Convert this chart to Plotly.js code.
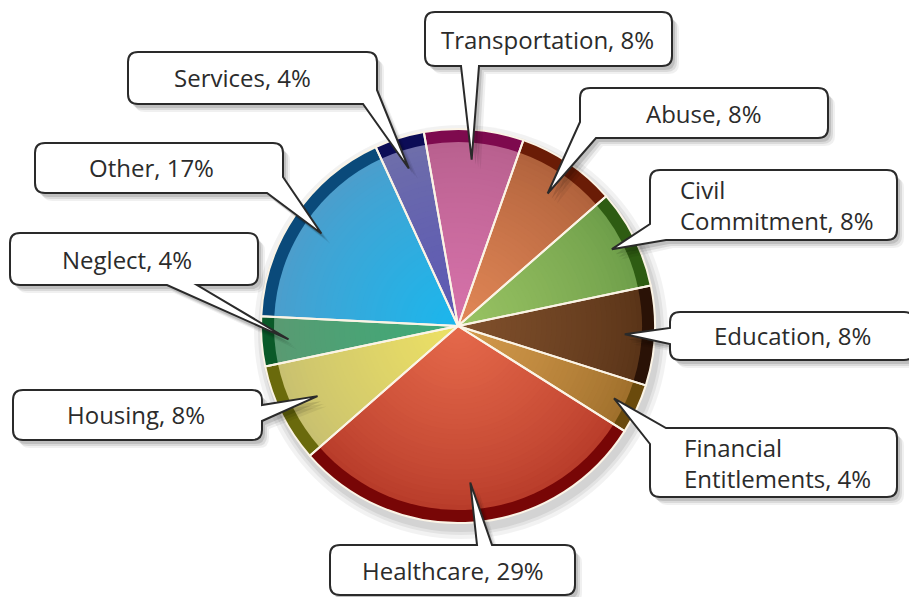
<!DOCTYPE html>
<html><head><meta charset="utf-8">
<script src="https://cdn.plot.ly/plotly-3.0.1.min.js"></script>
<style>html,body{margin:0;padding:0;background:#fff}</style>
</head><body><div id="chart" style="width:909px;height:597px"></div>
<script>
// ---- data ----
const categories = ['Transportation','Abuse','Civil Commitment','Education','Financial Entitlements','Healthcare','Housing','Neglect','Other','Services'];
const shares = [8,8,8,8,4,29,8,4,17,4];
const labelLines = ['Transportation','Abuse','Civil<br>Commitment','Education','Financial<br>Entitlements','Healthcare','Housing','Neglect','Other','Services'];

// ---- styles ----
const centerColors = ['#d672aa','#e08656','#98c262','#80502c','#d49a4c','#e4684a','#ece064','#3eaa78','#1cb6ec','#5c58b4'];
const edgeColors   = ['#b8608e','#b0623c','#6e9e4a','#5a3418','#a0702c','#b83c2a','#c8c070','#5a9a72','#4c9ecc','#6e6eaa'];
const rimColors    = ['#7e0a4e','#6a1c06','#2e5c12','#2a1206','#6a4a0c','#780606','#6a6a0c','#0a5a28','#0a4a7a','#0c0c56'];

// callout layout (pixels)
const callouts = [
  {box:[425,12,672,66],  tail:'bottom', a:461, b:479, tipR:167, tx:548},
  {box:[580,88,828,138], tail:'bl', a:16, tipR:160, tx:704},
  {box:[650,170,897,240],tail:'bl', a:16, tipR:172, tx:678, left:true},
  {box:[670,312,914,360],tail:'left', a:328, b:344, tipR:167, tx:793},
  {box:[650,428,897,497],tail:'tl', a:16, tipR:172, tx:682, left:true},
  {box:[330,545,575,595],tail:'top', a:477, b:492, tipR:157, tx:453},
  {box:[13,390,262,440], tail:'right', a:405, b:421, tipR:157, tx:136},
  {box:[10,233,258,285], tail:'bottom', a:167, b:197, tipR:170, tx:127},
  {box:[35,143,283,193], tail:'br', a:16, tipR:165, tx:151},
  {box:[128,52,377,104], tail:'br', a:14, tipR:165, tx:242}
];

const W = 909, H = 597;
const CX = 458, CY = 326, R = 197, RIM = 13;
const ROTATION = -10;

const px = x => +(x / W).toFixed(6);
const py = y => +(1 - y / H).toFixed(6);
const dom = r => ({x:[px(CX - r), px(CX + r)], y:[py(CY + r), py(CY - r)]});

function hex(h){return [1,3,5].map(i=>parseInt(h.substr(i,2),16));}
function mix(c1,c2,t){const a=hex(c1),b=hex(c2);return 'rgb('+a.map((v,i)=>Math.round(v+(b[i]-v)*t)).join(',')+')';}

const base = {type:'pie', values:shares, labels:categories, sort:false, direction:'clockwise',
  rotation:ROTATION, textinfo:'none', hoverinfo:'skip', showlegend:false};

const traces = [];
traces.push(Object.assign({}, base, {domain:dom(R), marker:{colors:rimColors, line:{width:0}}}));
const N = 36, rOut = R - RIM, rMin = 8;
for (let k = 0; k < N; k++) {
  const t = k / (N - 1);
  const r = rOut - k * (rOut - rMin) / (N - 1);
  traces.push(Object.assign({}, base, {domain:dom(r),
    marker:{colors:edgeColors.map((e,i)=>mix(e, centerColors[i], Math.pow(t,0.8))), line:{width:0}}}));
}
traces.push(Object.assign({}, base, {domain:dom(R),
  marker:{colors:categories.map(()=> 'rgba(0,0,0,0)'), line:{color:'#fbf4e6', width:2}}}));

// mid-angles from data
const total = shares.reduce((s,v)=>s+v,0);
let acc = 0;
const midAngles = shares.map(v => { const m = ROTATION + (acc + v/2) / total * 360; acc += v; return m; });

function calloutPath(c, tip, dx, dy) {
  const [x0,y0,x1,y1] = c.box, r = 10, t = c.tail, a = c.a, b = c.b;
  const P = (x,y) => px(x+dx) + ',' + py(y+dy);
  const T = P(tip[0], tip[1]);
  let d = t === 'tl' ? 'M' + P(x0 + a, y0) : 'M' + P(x0 + r, y0);
  if (t === 'top') d += 'L' + P(a,y0) + 'L' + T + 'L' + P(b,y0);
  if (t === 'tr') d += 'L' + P(x1-a,y0) + 'L' + T + 'L' + P(x1,y0+a);
  else d += 'L' + P(x1-r,y0) + 'Q' + P(x1,y0) + ' ' + P(x1,y0+r);
  if (t === 'right') d += 'L' + P(x1,a) + 'L' + T + 'L' + P(x1,b);
  if (t === 'br') d += 'L' + P(x1,y1-a) + 'L' + T + 'L' + P(x1-a,y1);
  else d += 'L' + P(x1,y1-r) + 'Q' + P(x1,y1) + ' ' + P(x1-r,y1);
  if (t === 'bottom') d += 'L' + P(b,y1) + 'L' + T + 'L' + P(a,y1);
  if (t === 'bl') d += 'L' + P(x0+a,y1) + 'L' + T + 'L' + P(x0,y1-a);
  else d += 'L' + P(x0+r,y1) + 'Q' + P(x0,y1) + ' ' + P(x0,y1-r);
  if (t === 'left') d += 'L' + P(x0,b) + 'L' + T + 'L' + P(x0,a);
  if (t === 'tl') d += 'L' + P(x0,y0+a) + 'L' + T + 'L' + P(x0+a,y0);
  else d += 'L' + P(x0,y0+r) + 'Q' + P(x0,y0) + ' ' + P(x0+r,y0);
  return d + 'Z';
}

const shapes = [];
// soft shadow under the pie
[[10,0.05],[6,0.06],[3,0.07]].forEach(([g,o])=>{
  shapes.push({type:'circle', layer:'below', xref:'paper', yref:'paper',
    x0:px(CX-R-g+3), x1:px(CX+R+g+3), y0:py(CY+R+g+6), y1:py(CY-R-g+6),
    fillcolor:'rgba(0,0,0,'+o+')', line:{width:0}});
});
const tips = callouts.map((c,i)=>{
  const th = midAngles[i] * Math.PI / 180;
  return [CX + c.tipR * Math.sin(th), CY - c.tipR * Math.cos(th)];
});
callouts.forEach((c,i)=>{
  [[7,8,0.06],[5,6,0.09],[3,4,0.12]].forEach(([dx,dy,o])=>{
    shapes.push({type:'path', xref:'paper', yref:'paper', path:calloutPath(c,[tips[i][0]+dx*0.3,tips[i][1]+dy*0.3],dx,dy),
      fillcolor:'rgba(0,0,0,'+o+')', line:{width:0}});
  });
});
callouts.forEach((c,i)=>{
  shapes.push({type:'path', xref:'paper', yref:'paper', path:calloutPath(c,tips[i],0,0),
    fillcolor:'#ffffff', line:{color:'#2a2a2a', width:2}});
});

const annotations = callouts.map((c,i)=>({
  xref:'paper', yref:'paper', x:px(c.tx), y:py((c.box[1]+c.box[3])/2),
  xanchor:c.left ? 'left' : 'center', yanchor:'middle', align:c.left ? 'left' : 'center',
  showarrow:false, text:labelLines[i] + ', ' + shares[i] + '%',
  font:{family:'Open Sans, sans-serif', size:24, color:'#2b2b2b'}
}));

Plotly.newPlot('chart', traces, {
  width:W, height:H, margin:{l:0,r:0,t:0,b:0},
  paper_bgcolor:'#ffffff', plot_bgcolor:'#ffffff',
  shapes:shapes, annotations:annotations
}, {staticPlot:true, displayModeBar:false});
</script>
</body></html>
